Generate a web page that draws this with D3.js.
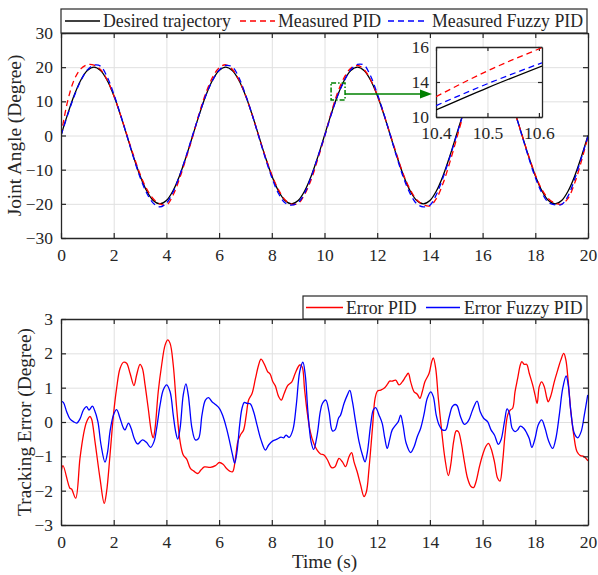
<!DOCTYPE html>
<html><head><meta charset="utf-8">
<script src="https://cdn.jsdelivr.net/npm/d3@7"></script>
</head><body style="margin:0;background:#fff">
<svg id="c" width="598" height="575"></svg>
<script>
// ---------------- DATA ----------------
const time = [0,0.25,0.5,0.75,1,1.25,1.5,1.75,2,2.25,2.5,2.75,3,3.25,3.5,3.75,4,4.25,4.5,4.75,
  5,5.25,5.5,5.75,6,6.25,6.5,6.75,7,7.25,7.5,7.75,8,8.25,8.5,8.75,9,9.25,9.5,9.75,
  10,10.25,10.5,10.75,11,11.25,11.5,11.75,12,12.25,12.5,12.75,13,13.25,13.5,13.75,14,14.25,14.5,14.75,
  15,15.25,15.5,15.75,16,16.25,16.5,16.75,17,17.25,17.5,17.75,18,18.25,18.5,18.75,19,19.25,19.5,19.75,20];
const desired = [0,6.18,11.76,16.18,19.02,20,19.02,16.18,11.76,6.18,0,-6.18,-11.76,-16.18,-19.02,-20,-19.02,-16.18,-11.76,-6.18,
  0,6.18,11.76,16.18,19.02,20,19.02,16.18,11.76,6.18,0,-6.18,-11.76,-16.18,-19.02,-20,-19.02,-16.18,-11.76,-6.18,
  0,6.18,11.76,16.18,19.02,20,19.02,16.18,11.76,6.18,0,-6.18,-11.76,-16.18,-19.02,-20,-19.02,-16.18,-11.76,-6.18,
  0,6.18,11.76,16.18,19.02,20,19.02,16.18,11.76,6.18,0,-6.18,-11.76,-16.18,-19.02,-20,-19.02,-16.18,-11.76,-6.18,0];
const measuredPID = [0,10.0,16.3,19.5,20.7,20.6,19.3,16.3,11.8,6.2,0.2,-5.8,-11.3,-15.6,-18.5,-20.0,-20.4,-17.5,-12.6,-6.6,
  -0.3,6.6,12.5,17.0,19.8,20.7,19.4,16.3,11.8,6.2,0,-6.1,-11.5,-15.8,-18.8,-20.1,-19.9,-17.2,-12.8,-6.8,
  -0.4,6.5,12.6,17.0,19.7,20.5,19.3,16.3,11.9,6.3,0.2,-5.8,-11.5,-15.8,-18.8,-20.2,-20.6,-18.4,-14.0,-8.0,
  -1.3,5.6,12.0,16.8,19.7,20.6,19.5,16.5,12.0,6.2,0,-6.0,-11.5,-15.8,-18.5,-19.8,-20.1,-18.3,-13.8,-7.5,-0.3];
const measuredFuzzy = [0,6.0,11.5,16.0,19.2,20.6,20.3,17.2,12.2,6.3,0,-6.4,-12.2,-16.8,-19.8,-20.9,-19.8,-16.6,-11.8,-6.0,
  0.2,6.2,11.8,16.1,19.1,20.5,20.1,17.0,12.0,6.2,-0.2,-6.5,-12.3,-16.9,-19.7,-20.4,-19.6,-16.8,-12.0,-6.2,
  -0.3,6.0,11.6,16.0,19.3,20.8,20.6,17.4,12.3,6.4,0,-6.5,-12.4,-17.0,-20.0,-20.9,-20.4,-17.2,-12.3,-6.5,
  -0.3,6.0,11.6,16.0,19.2,20.6,20.2,17.0,12.0,6.2,-0.2,-6.5,-12.3,-16.8,-19.6,-20.3,-20.2,-17.6,-12.6,-6.5,-0.2];

const errPidTime = [0,0.076,0.34,0.40,0.557,0.72,0.85,0.97,1.10,1.16,1.29,1.48,1.64,1.73,1.86,1.99,2.11,2.24,2.37,2.49,2.62,2.77,2.87,3.0,3.09,3.19,3.31,3.44,3.50,3.57,3.69,3.82,3.95,4.05,4.14,4.26,4.39,4.52,4.64,4.77,4.91,5.04,5.19,5.31,5.44,5.67,5.86,6.01,6.15,6.28,6.40,6.51,6.62,6.71,6.81,6.93,7.03,7.12,7.25,7.38,7.50,7.59,7.72,7.84,7.94,8.04,8.13,8.26,8.36,8.47,8.6,8.76,8.89,9.06,9.15,9.24,9.34,9.46,9.59,9.72,9.85,9.98,10.11,10.27,10.4,10.55,10.68,10.8,10.93,11.03,11.12,11.24,11.37,11.5,11.59,11.69,11.82,11.92,12.01,12.13,12.26,12.39,12.47,12.57,12.7,12.83,12.95,13.08,13.18,13.27,13.4,13.52,13.62,13.71,13.81,13.97,14.07,14.13,14.22,14.32,14.45,14.57,14.70,14.79,14.9,15.0,15.08,15.18,15.31,15.43,15.56,15.66,15.75,15.88,16.0,16.13,16.22,16.32,16.45,16.57,16.66,16.76,16.85,16.95,17.05,17.14,17.23,17.33,17.43,17.49,17.58,17.67,17.77,17.9,17.99,18.07,18.15,18.24,18.34,18.44,18.49,18.6,18.72,18.85,18.97,19.08,19.16,19.25,19.35,19.46,19.58,19.71,19.84,20.0];
const errPid = [-1.5,-1.27,-1.93,-1.95,-2.22,-1.06,-0.38,0.0,0.16,0.09,-0.57,-1.64,-2.37,-2.03,-0.96,0.2,0.98,1.56,1.74,1.71,1.42,1.06,1.37,1.68,1.56,1.08,0.4,-0.33,-0.46,-0.18,0.88,1.66,2.24,2.39,2.29,1.66,0.4,-0.57,-0.96,-1.08,-1.35,-1.43,-1.5,-1.4,-1.31,-1.32,-1.27,-1.18,-1.23,-1.35,-1.43,-1.45,-1.06,-0.57,-0.38,-0.23,0.2,0.64,0.83,1.27,1.66,1.83,1.68,1.47,1.39,1.17,1.06,0.74,0.64,0.83,1.06,1.17,1.42,1.66,1.61,0.98,0.3,-0.28,-0.62,-0.82,-0.93,-0.96,-1.1,-1.33,-1.3,-1.06,-1.16,-1.3,-1.01,-0.89,-1.16,-1.45,-1.83,-2.17,-2.03,-1.35,-0.18,0.69,0.9,0.93,0.98,1.1,1.19,1.19,1.22,1.08,1.17,1.32,1.42,1.17,0.88,0.81,0.69,0.88,1.17,1.42,1.76,1.87,1.56,0.69,-0.28,-1.06,-1.56,-1.25,-0.57,-0.26,-0.28,-0.57,-1.16,-1.64,-1.88,-1.91,-1.74,-1.3,-0.96,-0.7,-0.62,-0.77,-1.16,-1.64,-1.72,-1.16,-0.38,0.2,0.35,0.4,0.88,1.27,1.66,1.76,1.68,1.68,1.42,1.08,0.79,0.54,1.03,1.17,1.03,0.69,0.59,0.79,1.17,1.51,1.81,2.0,1.81,1.17,0.3,-0.38,-0.86,-0.98,-1.0,-1.13];
const errFuzzyTime = [0,0.09,0.215,0.34,0.47,0.6,0.72,0.85,0.97,1.06,1.19,1.27,1.4,1.52,1.67,1.77,1.86,1.99,2.11,2.24,2.37,2.43,2.56,2.66,2.78,2.91,3.09,3.25,3.40,3.53,3.63,3.76,3.88,4.01,4.14,4.26,4.35,4.43,4.52,4.64,4.74,4.83,4.88,4.97,5.1,5.22,5.35,5.48,5.6,5.73,5.86,6.01,6.15,6.28,6.4,6.51,6.59,6.68,6.78,6.87,6.96,7.06,7.18,7.31,7.44,7.59,7.76,7.88,8.04,8.2,8.35,8.45,8.54,8.66,8.8,8.93,9.06,9.18,9.27,9.37,9.49,9.59,9.72,9.84,9.92,10.05,10.17,10.3,10.4,10.53,10.61,10.74,10.87,10.96,11.06,11.18,11.31,11.44,11.54,11.63,11.75,11.85,11.94,12.07,12.19,12.29,12.38,12.47,12.57,12.7,12.8,12.89,12.98,13.1,13.27,13.4,13.52,13.65,13.77,13.9,14.03,14.13,14.24,14.35,14.47,14.6,14.72,14.85,14.95,15.03,15.16,15.31,15.46,15.62,15.79,15.91,16.04,16.19,16.32,16.45,16.6,16.7,16.83,16.93,17.02,17.12,17.23,17.33,17.43,17.56,17.68,17.77,17.87,17.99,18.11,18.24,18.37,18.49,18.66,18.78,18.91,19.04,19.17,19.25,19.35,19.48,19.61,19.74,19.86,19.99];
const errFuzzy = [0.61,0.57,0.3,0.09,0.01,-0.03,0.09,0.35,0.45,0.35,0.46,0.35,0.01,-0.67,-1.17,-0.86,-0.28,0.2,0.36,0.11,-0.18,-0.23,-0.03,-0.18,-0.48,-0.64,-0.52,-0.6,-0.74,-0.57,-0.18,0.5,0.93,1.08,0.88,0.2,-0.28,-0.5,-0.18,0.79,1.11,0.79,0.45,-0.18,-0.52,-0.48,0.2,0.64,0.71,0.59,0.51,0.4,0.16,-0.18,-0.57,-0.96,-1.2,-0.86,-0.09,0.4,0.57,0.54,0.53,0.3,-0.09,-0.52,-0.82,-0.67,-0.55,-0.5,-0.44,-0.46,-0.38,-0.45,-0.23,0.5,1.47,1.74,1.37,0.3,-0.57,-0.8,-0.38,0.3,0.54,0.64,0.3,-0.26,-0.23,0.11,0.2,0.54,0.79,0.92,0.59,0.01,-0.57,-0.96,-1.16,-0.86,-0.09,0.35,0.42,0.2,-0.04,-0.48,-0.77,-0.52,-0.23,-0.09,0.01,0.2,-0.09,-0.62,-0.89,-0.72,-0.43,-0.18,0.2,0.69,0.88,0.74,0.2,-0.09,-0.23,-0.23,0.11,0.45,0.51,0.48,0.16,-0.07,0.03,0.35,0.61,0.3,0.11,0.01,-0.23,-0.38,-0.65,-0.52,0.01,0.38,0.25,-0.18,-0.28,-0.23,-0.12,-0.18,-0.33,-0.48,-0.74,-0.48,-0.09,0.06,-0.18,-0.52,-0.77,-0.48,0.2,0.98,1.34,1.08,0.3,-0.33,-0.46,-0.28,0.2,0.79];

// zoom inset data
const insetTime = [10.4, 10.5, 10.606];
const insetDesired = [10.6, 12.5, 14.37];
const insetPID = [11.74, 13.95, 15.94];
const insetFuzzy = [10.97, 12.85, 14.65];
const insetYTicks = [10, 13, 16];
const insetYLabels = ["10", "14", "16"];
const insetXTicks = [10.4, 10.5, 10.6];
const zoomBoxT = [10.25, 10.78];
const zoomBoxV = [10.4, 15.4];
const arrowV = 12.15;

const xTicks = [0,2,4,6,8,10,12,14,16,18,20];
const yTicksTop = [-30,-20,-10,0,10,20,30];
const yTicksBot = [-3,-2,-1,0,1,2,3];
const legendTop = ["Desired trajectory","Measured PID","Measured Fuzzy PID"];
const legendBot = ["Error PID","Error Fuzzy PID"];

// ---------------- DRAW ----------------
const FONT = '"Liberation Serif"';
const svg = d3.select("#c").style("font-family", FONT);
const AX = "#262626", GRID = "#e0e0e0";
const TICKFS = "17.5px", LEGFS = "17.8px", LABFS = "19.3px";
const L = 61, R = 588;
const topP = {t:33, b:238}, botP = {t:319, b:525};
const x = d3.scaleLinear().domain([0,20]).range([L,R]);
const yT = d3.scaleLinear().domain([-30,30]).range([topP.b, topP.t]);
const yB = d3.scaleLinear().domain([-3,3]).range([botP.b, botP.t]);

const defs = svg.append("defs");
defs.append("clipPath").attr("id","cpT").append("rect").attr("x",L).attr("y",topP.t).attr("width",R-L).attr("height",topP.b-topP.t);
defs.append("clipPath").attr("id","cpB").append("rect").attr("x",L).attr("y",botP.t).attr("width",R-L).attr("height",botP.b-botP.t);

function txt(sel, fs) { return sel.style("font-family", FONT).style("font-size", fs).attr("fill", AX); }

function panel(y, P, yTicks) {
  const g = svg.append("g");
  g.append("g").attr("transform",`translate(0,${P.b})`)
    .call(d3.axisBottom(x).tickValues(xTicks).tickSize(-(P.b-P.t)).tickFormat(""))
    .call(a=>{a.select(".domain").remove(); a.selectAll("line").attr("stroke",GRID).attr("stroke-width",1);});
  g.append("g").attr("transform",`translate(${L},0)`)
    .call(d3.axisLeft(y).tickValues(yTicks).tickSize(-(R-L)).tickFormat(""))
    .call(a=>{a.select(".domain").remove(); a.selectAll("line").attr("stroke",GRID).attr("stroke-width",1);});
}
const st = a=>{a.select(".domain").attr("stroke",AX).attr("stroke-width",1.3);
  a.selectAll(".tick line").attr("stroke",AX).attr("stroke-width",1.2);
  txt(a.selectAll("text"), TICKFS);};
function frame(y, P, yTicks) {
  const g = svg.append("g");
  g.append("g").attr("transform",`translate(0,${P.b})`)
    .call(d3.axisBottom(x).tickValues(xTicks).tickSize(-5).tickSizeOuter(0).tickPadding(11).tickFormat(d3.format("d"))).call(st);
  g.append("g").attr("transform",`translate(0,${P.t})`)
    .call(d3.axisTop(x).tickValues(xTicks).tickSize(-5).tickSizeOuter(0).tickFormat("")).call(st);
  g.append("g").attr("transform",`translate(${L},0)`)
    .call(d3.axisLeft(y).tickValues(yTicks).tickSize(-5).tickSizeOuter(0).tickPadding(8).tickFormat(d3.format("d"))).call(st);
  g.append("g").attr("transform",`translate(${R},0)`)
    .call(d3.axisLeft(y).tickValues(yTicks).tickSize(5).tickSizeOuter(0).tickFormat("")).call(st);
}

// ---- top panel ----
panel(yT, topP, yTicksTop);
const lineT = d3.line().x(d=>x(d[0])).y(d=>yT(d[1])).curve(d3.curveCatmullRom);
const gT = svg.append("g").attr("clip-path","url(#cpT)");
gT.append("path").datum(time.map((t,i)=>[t,desired[i]])).attr("d",lineT).attr("fill","none").attr("stroke","#000").attr("stroke-width",1.3);
gT.append("path").datum(time.map((t,i)=>[t,measuredPID[i]])).attr("d",lineT).attr("fill","none").attr("stroke","#ff0000").attr("stroke-width",1.3).attr("stroke-dasharray","6,4");
gT.append("path").datum(time.map((t,i)=>[t,measuredFuzzy[i]])).attr("d",lineT).attr("fill","none").attr("stroke","#0000ff").attr("stroke-width",1.3).attr("stroke-dasharray","6,4");
frame(yT, topP, yTicksTop);

// zoom box
svg.append("rect").attr("x",x(zoomBoxT[0])).attr("y",yT(zoomBoxV[1]))
  .attr("width",x(zoomBoxT[1])-x(zoomBoxT[0])).attr("height",yT(zoomBoxV[0])-yT(zoomBoxV[1]))
  .attr("fill","none").attr("stroke","#008000").attr("stroke-width",1.5).attr("stroke-dasharray","5,2,1.5,2");

// inset
const xi = d3.scaleLinear().domain([insetTime[0], insetTime[2]]).range([436,542]);
const yi = d3.scaleLinear().domain([10,16]).range([117,47]);
svg.append("rect").attr("x",436).attr("y",47).attr("width",106).attr("height",70).attr("fill","#fff");
const gi = svg.append("g");
gi.append("g").attr("transform","translate(0,117)")
  .call(d3.axisBottom(xi).tickValues([10.5]).tickSize(-70).tickFormat(""))
  .call(a=>{a.select(".domain").remove(); a.selectAll("line").attr("stroke",GRID);});
gi.append("g").attr("transform","translate(436,0)")
  .call(d3.axisLeft(yi).tickValues([13]).tickSize(-106).tickFormat(""))
  .call(a=>{a.select(".domain").remove(); a.selectAll("line").attr("stroke",GRID);});
defs.append("clipPath").attr("id","cpI").append("rect").attr("x",436).attr("y",47).attr("width",106).attr("height",70);
const lineI = d3.line().x(d=>xi(d[0])).y(d=>yi(d[1])).curve(d3.curveMonotoneX);
const gil = svg.append("g").attr("clip-path","url(#cpI)");
gil.append("path").datum(insetTime.map((t,i)=>[t,insetDesired[i]])).attr("d",lineI).attr("fill","none").attr("stroke","#000").attr("stroke-width",1.3);
gil.append("path").datum(insetTime.map((t,i)=>[t,insetPID[i]])).attr("d",lineI).attr("fill","none").attr("stroke","#ff0000").attr("stroke-width",1.3).attr("stroke-dasharray","6,4");
gil.append("path").datum(insetTime.map((t,i)=>[t,insetFuzzy[i]])).attr("d",lineI).attr("fill","none").attr("stroke","#0000ff").attr("stroke-width",1.3).attr("stroke-dasharray","6,4");
gi.append("g").attr("transform","translate(0,117)")
  .call(d3.axisBottom(xi).tickValues(insetXTicks).tickSize(-4).tickSizeOuter(0).tickPadding(10).tickFormat(d3.format(".1f"))).call(st);
gi.append("g").attr("transform","translate(0,47)")
  .call(d3.axisTop(xi).tickValues(insetXTicks).tickSize(-4).tickSizeOuter(0).tickFormat("")).call(st);
gi.append("g").attr("transform","translate(436,0)")
  .call(d3.axisLeft(yi).tickValues(insetYTicks).tickSize(-4).tickSizeOuter(0).tickPadding(7).tickFormat((d,i)=>insetYLabels[i])).call(st);
gi.append("g").attr("transform","translate(542,0)")
  .call(d3.axisLeft(yi).tickValues(insetYTicks).tickSize(4).tickSizeOuter(0).tickFormat("")).call(st);

// arrow
const ax0 = x(zoomBoxT[1]), ax1 = 432, ay = yT(arrowV);
svg.append("line").attr("x1",ax0).attr("x2",ax1-8).attr("y1",ay).attr("y2",ay).attr("stroke","#008000").attr("stroke-width",1.5);
svg.append("path").attr("d",`M${ax1},${ay} L${ax1-12},${ay-4.5} L${ax1-12},${ay+4.5} Z`).attr("fill","#008000");

// legend top
const lg = svg.append("g");
lg.append("rect").attr("x",61).attr("y",9).attr("width",526).attr("height",24).attr("fill","#fff").attr("stroke",AX).attr("stroke-width",1.2);
const lt = [{x1:65,x2:100,tx:103,c:"#000",d:null},{x1:240,x2:275,tx:278,c:"#ff0000",d:"6,4"},{x1:388,x2:428,tx:432,c:"#0000ff",d:"6,4"}];
lt.forEach((e,i)=>{
  lg.append("line").attr("x1",e.x1).attr("x2",e.x2).attr("y1",21).attr("y2",21).attr("stroke",e.c).attr("stroke-width",1.3).attr("stroke-dasharray",e.d);
  txt(lg.append("text").attr("x",e.tx).attr("y",27), LEGFS).text(legendTop[i]);
});

// ---- bottom panel ----
panel(yB, botP, yTicksBot);
const lineB = d3.line().x(d=>x(d[0])).y(d=>yB(d[1])).curve(d3.curveCatmullRom);
const gB = svg.append("g").attr("clip-path","url(#cpB)");
gB.append("path").datum(errPidTime.map((t,i)=>[t,errPid[i]])).attr("d",lineB).attr("fill","none").attr("stroke","#ff0000").attr("stroke-width",1.3);
gB.append("path").datum(errFuzzyTime.map((t,i)=>[t,errFuzzy[i]])).attr("d",lineB).attr("fill","none").attr("stroke","#0000ff").attr("stroke-width",1.3);
frame(yB, botP, yTicksBot);

const lb = svg.append("g");
lb.append("rect").attr("x",303).attr("y",296).attr("width",284).attr("height",23).attr("fill","#fff").attr("stroke",AX).attr("stroke-width",1.2);
const lbe = [{x1:306,x2:343,tx:346,c:"#ff0000"},{x1:426,x2:460,tx:464,c:"#0000ff"}];
lbe.forEach((e,i)=>{
  lb.append("line").attr("x1",e.x1).attr("x2",e.x2).attr("y1",307.5).attr("y2",307.5).attr("stroke",e.c).attr("stroke-width",1.3);
  txt(lb.append("text").attr("x",e.tx).attr("y",314), LEGFS).text(legendBot[i]);
});

// axis titles
txt(svg.append("text").attr("transform",`translate(21,${(topP.t+topP.b)/2}) rotate(-90)`).attr("text-anchor","middle"), LABFS).text("Joint Angle (Degree)");
txt(svg.append("text").attr("transform",`translate(31,${(botP.t+botP.b)/2}) rotate(-90)`).attr("text-anchor","middle"), LABFS).text("Tracking Error (Degree)");
txt(svg.append("text").attr("x",(L+R)/2).attr("y",568).attr("text-anchor","middle"), LABFS).text("Time (s)");
</script>
</body></html>
